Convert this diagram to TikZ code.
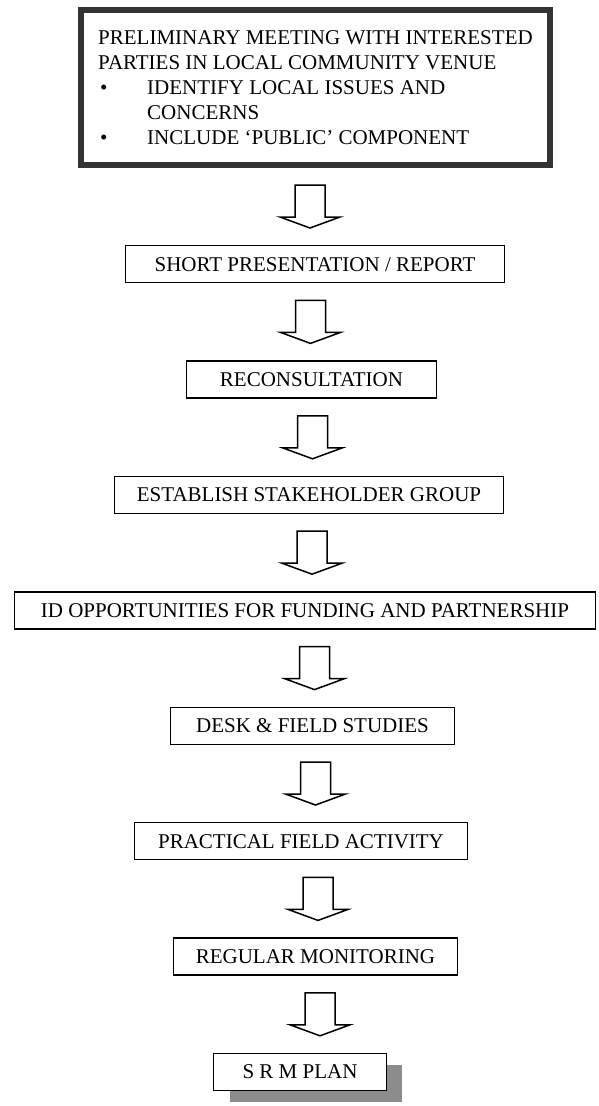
\documentclass[tikz,border=0pt]{standalone}
\usepackage{fontspec}
\setmainfont{Liberation Serif}
\usetikzlibrary{positioning, calc, shadows}
\tikzset{
    meeting/.style={rectangle, draw=black!80, line width=6pt, align=left, inner xsep=7pt, minimum width=469pt, minimum height=155pt, font=\fontsize{21}{25}\selectfont},
    stage/.style={rectangle, draw, line width=1.4pt, fill=white, minimum height=37pt, inner sep=0pt, font=\fontsize{21}{25}\selectfont},
    hollow/.style={draw, line width=1.5pt, line join=miter, fill=white}
}

% open block arrow from the foot of #1 to the top of #2, centred at x=#3
\newcommand{\blockdown}[3]{%
    \draw[hollow] let \p1=(#1.south), \p2=(#2.north) in
        (#3pt-15pt,\y1-17pt) -- (#3pt+15pt,\y1-17pt) -- (#3pt+15pt,\y2+28pt)
        -- (#3pt+30pt,\y2+28pt) -- (#3pt,\y2+17pt) -- (#3pt-30pt,\y2+28pt)
        -- (#3pt-15pt,\y2+28pt) -- cycle;}

\begin{document}
\begin{tikzpicture}[x=1pt, y=-1pt]
    \useasboundingbox (0,0) rectangle (598,1106);

    \node (meet) [meeting] at (315.5,87.5) {PRELIMINARY MEETING WITH INTERESTED\\
        PARTIES IN LOCAL COMMUNITY VENUE\\
        \makebox[49pt][l]{\hspace{2pt}\textbullet}IDENTIFY LOCAL ISSUES AND\\
        \hspace*{49pt}CONCERNS\\
        \makebox[49pt][l]{\hspace{2pt}\textbullet}INCLUDE `PUBLIC' COMPONENT};
    \node (report) [stage, minimum width=378.6pt, below=77pt of meet, xshift=-0.5pt] {SHORT PRESENTATION / REPORT};
    \node (recon) [stage, minimum width=249.6pt, below=77pt of report, xshift=-3.5pt] {RECONSULTATION\hspace{17pt}};
    \node (stake) [stage, minimum width=388.6pt, below=77pt of recon, xshift=-2.5pt] {ESTABLISH STAKEHOLDER GROUP};
    \node (funding) [stage, minimum width=580.6pt, below=77pt of stake, xshift=-4pt] {ID OPPORTUNITIES FOR FUNDING AND PARTNERSHIP};
    \node (desk) [stage, minimum width=283.6pt, below=77pt of funding, xshift=7.5pt] {DESK \& FIELD STUDIES\hspace{8pt}};
    \node (field) [stage, minimum width=332.6pt, below=77pt of desk, xshift=-11.5pt] {PRACTICAL FIELD ACTIVITY};
    \node (monitor) [stage, minimum width=283.6pt, below=77pt of field, xshift=14.5pt] {REGULAR MONITORING};
    \node (srm) [stage, minimum width=172.6pt, below=77pt of monitor, xshift=-15.5pt,
        drop shadow={shadow xshift=16pt, shadow yshift=-11pt, fill=black!45, opacity=1}] {S R M PLAN};

    \blockdown{meet}{report}{310}
    \blockdown{report}{recon}{310.5}
    \blockdown{recon}{stake}{312.5}
    \blockdown{stake}{funding}{312}
    \blockdown{funding}{desk}{314.5}
    \blockdown{desk}{field}{315.5}
    \blockdown{field}{monitor}{318}
    \blockdown{monitor}{srm}{320}
\end{tikzpicture}
\end{document}
